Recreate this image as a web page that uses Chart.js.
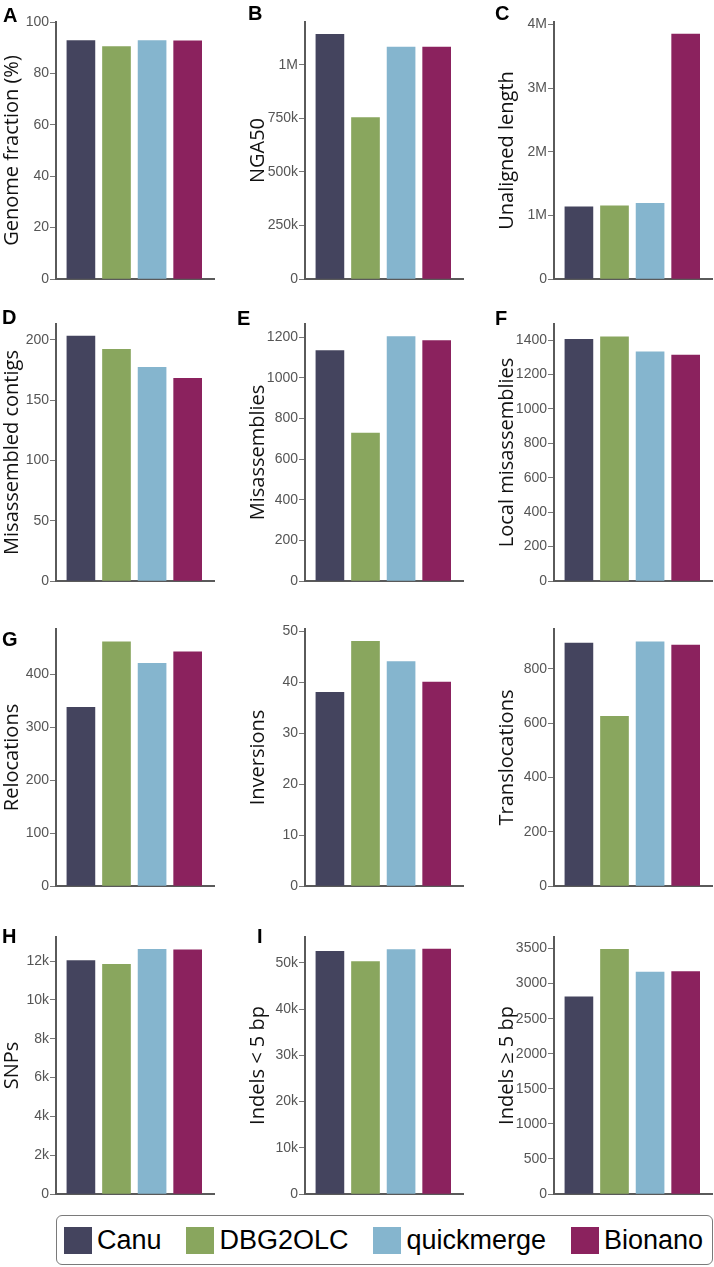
<!DOCTYPE html>
<html lang="en">
<head>
    <meta charset="UTF-8">
    <title>Assembly metrics</title>
    <script src="https://cdn.jsdelivr.net/npm/chart.js"></script>
    <style>
        body { margin: 0; background: #fff; }
        #page { position: relative; width: 714px; height: 1267px; background: #fff; overflow: hidden; }
        .panel { position: absolute; }
        .letter {
            position: absolute;
            font-family: "Liberation Sans", Arial, sans-serif;
            font-weight: bold;
            font-size: 20px;
            line-height: 20px;
            color: #000;
        }
        .legend {
            position: absolute;
            left: 56px; top: 1215px;
            width: 657px; height: 50px;
            border: 1px solid #7a7a7a;
            border-radius: 6px;
            display: flex;
            align-items: center;
            justify-content: space-between;
            padding: 0 9px 0 7px;
            box-sizing: border-box;
            font-family: "Liberation Sans", Arial, sans-serif;
            font-size: 27px;
            color: #000;
        }
        .item { display: flex; align-items: center; }
        .swatch { width: 28px; height: 27px; margin-right: 5px; }
    </style>
</head>
<body>
<div id="page">
    <div class="legend" id="legend"></div>
</div>
<script>
    // data
    var assemblers = ['Canu', 'DBG2OLC', 'quickmerge', 'Bionano'];
    var colors = ['#44445e', '#89a65e', '#85b5ce', '#8b225e'];

    var genomeFraction = [92.8, 90.4, 92.8, 92.7];
    var nga50 = [1143000, 754000, 1083000, 1083000];
    var unalignedLength = [1135000, 1150000, 1190000, 3850000];
    var misassembledContigs = [203, 192, 177, 168];
    var misassemblies = [1135, 729, 1204, 1184];
    var localMisassemblies = [1405, 1420, 1332, 1314];
    var relocations = [337, 461, 420, 442];
    var inversions = [38, 48, 44, 40];
    var translocations = [895, 625, 900, 888];
    var snps = [12030, 11830, 12610, 12580];
    var indelsShort = [52500, 50300, 52900, 53000];
    var indelsLong = [2812, 3490, 3163, 3173];

    var titles = ['Genome fraction (%)', 'NGA50', 'Unaligned length',
                  'Misassembled contigs', 'Misassemblies', 'Local misassemblies',
                  'Relocations', 'Inversions', 'Translocations',
                  'SNPs', 'Indels < 5 bp', 'Indels \u2265 5 bp'];
    var letters = ['A', 'B', 'C', 'D', 'E', 'F', 'G', '', '', 'H', 'I', ''];
    var series = [genomeFraction, nga50, unalignedLength,
                  misassembledContigs, misassemblies, localMisassemblies,
                  relocations, inversions, translocations,
                  snps, indelsShort, indelsLong];
    var axisMax = [100, 1200000, 4040000, 213, 1266, 1494, 485, 50.4, 947, 13240, 55600, 3665];
    var tickStep = [20, 250000, 1000000, 50, 200, 200, 100, 10, 200, 2000, 10000, 500];
    var tickFmt = ['plain', 'si', 'si', 'plain', 'plain', 'plain', 'plain', 'plain', 'plain', 'si', 'si', 'plain'];

    // layout
    var colAxisX = [56, 305, 554];
    var rowTop = [22, 324, 629, 937];
    var plotH = 257;
    var plotW = 158;
    var letterPos = [[3, 5], [248, 3], [495, 3], [2, 307], [237, 308], [495, 308],
                     [2, 629], null, null, [2, 926], [257, 926], null];

    function fmt(v, kind) {
        if (kind === 'si') {
            if (v === 0) return '0';
            if (v >= 1000000) return (v / 1000000) + 'M';
            return (v / 1000) + 'k';
        }
        return String(v);
    }

    var page = document.getElementById('page');
    var yW = 56, padTop = 22, padBottom = 16, padRight = 10;

    for (var p = 0; p < 12; p++) {
        var col = p % 3, row = Math.floor(p / 3);
        var cw = yW + plotW + padRight, ch = padTop + plotH + padBottom;
        var cv = document.createElement('canvas');
        cv.className = 'panel';
        cv.width = cw; cv.height = ch;
        cv.style.left = (colAxisX[col] - yW) + 'px';
        cv.style.top = (rowTop[row] - padTop) + 'px';
        cv.style.width = cw + 'px'; cv.style.height = ch + 'px';
        page.appendChild(cv);

        if (letterPos[p]) {
            var l = document.createElement('div');
            l.className = 'letter';
            l.textContent = letters[p];
            l.style.left = letterPos[p][0] + 'px';
            l.style.top = letterPos[p][1] + 'px';
            page.appendChild(l);
        }

        (function (p, col) {
            new Chart(cv.getContext('2d'), {
                type: 'bar',
                data: {
                    datasets: [{
                        data: series[p].map(function (v, i) { return { x: i, y: v }; }),
                        backgroundColor: colors,
                        borderWidth: 0,
                        barThickness: 28
                    }]
                },
                options: {
                    responsive: false,
                    devicePixelRatio: 1,
                    animation: false,
                    layout: { padding: { top: padTop, bottom: padBottom, right: padRight, left: 0 } },
                    plugins: { legend: { display: false }, tooltip: { enabled: false } },
                    scales: {
                        x: {
                            type: 'linear',
                            offset: false,
                            min: -0.70,
                            max: 3.74,
                            ticks: { display: false },
                            grid: { display: false, drawTicks: false, offset: false },
                            border: { display: true, color: '#5a5a5a', width: 2 },
                            afterFit: function (s) { s.height = 0; }
                        },
                        y: {
                            min: 0,
                            max: axisMax[p],
                            afterFit: function (s) { s.width = yW; },
                            afterBuildTicks: function (s) {
                                var t = [];
                                for (var v = 0; v <= axisMax[p] + 1e-9; v += tickStep[p]) t.push({ value: v });
                                s.ticks = t;
                            },
                            ticks: {
                                padding: 1,
                                color: '#555',
                                font: { family: '"Liberation Sans", Arial, sans-serif', size: 14 },
                                callback: function (v) { return fmt(v, tickFmt[p]); }
                            },
                            grid: { drawOnChartArea: false, drawTicks: true, tickLength: 6, tickColor: '#777', tickWidth: 1 },
                            border: { display: true, color: '#5a5a5a', width: 2 },
                            title: {
                                display: true,
                                text: titles[p],
                                color: '#111',
                                font: { family: '"Open Sans", sans-serif', size: 20, lineHeight: 1 },
                                padding: { top: col === 0 ? 2 : -1, bottom: 0 }
                            }
                        }
                    }
                }
            });
        })(p, col);
    }

    // legend
    var legend = document.getElementById('legend');
    assemblers.forEach(function (name, i) {
        var item = document.createElement('div');
        item.className = 'item';
        var sw = document.createElement('span');
        sw.className = 'swatch';
        sw.style.background = colors[i];
        var tx = document.createElement('span');
        tx.textContent = name;
        item.appendChild(sw);
        item.appendChild(tx);
        legend.appendChild(item);
    });
</script>
</body>
</html>
